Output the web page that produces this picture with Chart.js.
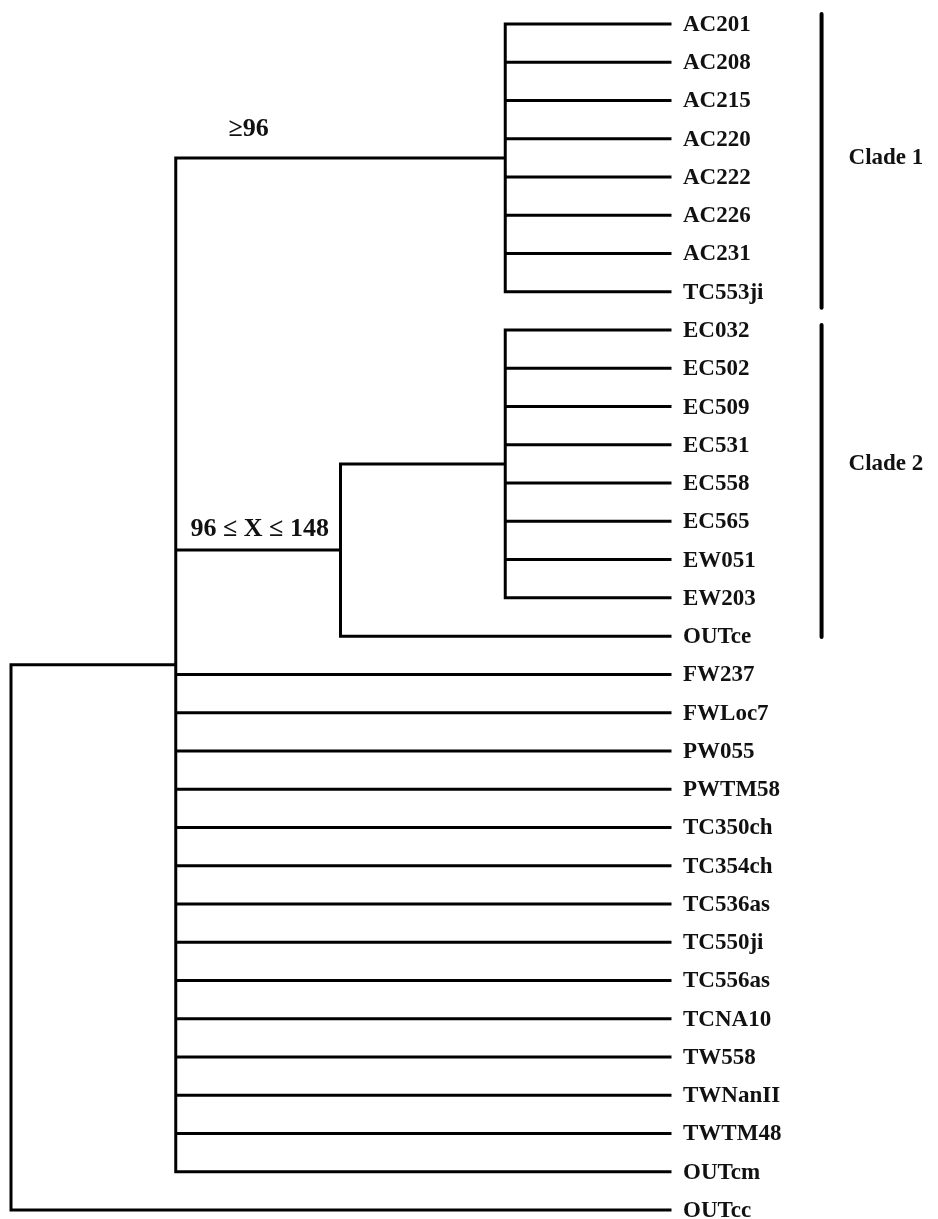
<!DOCTYPE html>
<html>
<head>
<meta charset="utf-8">
<script src="https://cdn.jsdelivr.net/npm/chart.js@4.4.1/dist/chart.umd.min.js"></script>
<style>
  html, body { margin: 0; padding: 0; background: #fff; }
  #wrap { width: 938px; height: 1219px; position: relative; }
</style>
</head>
<body>
<div id="wrap"><canvas id="tree"></canvas></div>
<script>
// Листки дерева (зверху вниз)
const leafNames = [
  "AC201", "AC208", "AC215", "AC220", "AC222", "AC226", "AC231", "TC553ji",
  "EC032", "EC502", "EC509", "EC531", "EC558", "EC565", "EW051", "EW203",
  "OUTce",
  "FW237", "FWLoc7", "PW055", "PWTM58", "TC350ch", "TC354ch", "TC536as",
  "TC550ji", "TC556as", "TCNA10", "TW558", "TWNanII", "TWTM48", "OUTcm",
  "OUTcc"
];
// Внутрішні вузли: 0 = корінь, 1 = основна група, 2 = clade 2, 3 = EC група, 4 = AC група
const nodeDepth = [0, 1, 2, 3, 3];
const nodeParent = [null, 0, 1, 2, 1];
const leafParent = [
  4, 4, 4, 4, 4, 4, 4, 4,
  3, 3, 3, 3, 3, 3, 3, 3,
  2,
  1, 1, 1, 1, 1, 1, 1, 1, 1, 1, 1, 1, 1, 1,
  0
];
const leafDepth = 4;

// Клади: [верх, низ] у позиціях листків, та підписи
const cladeNames = ["Clade 1", "Clade 2"];
const cladeSpan = [[-0.26, 7.42], [7.87, 16.02]];
const cladeMid = [3.5, 11.5];
const cladeBarX = 4.92;

// Підписи гілок
const branchLabels = ["\u226596", "96 \u2264 X \u2264 148"];
const branchLabelX = [1.32, 1.09];
const branchLabelY = [2.75, 13.2];

// 1) Обчислення положень вузлів
const nodeY = nodeDepth.map(() => null);
function childYs(n) {
  const ys = [];
  leafParent.forEach((p, i) => { if (p === n) ys.push(i); });
  nodeParent.forEach((p, j) => { if (p === n) ys.push(getNodeY(j)); });
  return ys;
}
function getNodeY(n) {
  if (nodeY[n] === null) {
    const ys = childYs(n);
    nodeY[n] = (Math.min(...ys) + Math.max(...ys)) / 2;
  }
  return nodeY[n];
}

// 2) Побудова відрізків (розриви через null)
const segs = [];
function seg(x1, y1, x2, y2) {
  segs.push({ x: x1, y: y1 }, { x: x2, y: y2 }, { x: null, y: null });
}
nodeDepth.forEach((d, n) => {
  const ys = childYs(n);
  seg(d, Math.min(...ys), d, Math.max(...ys));
});
leafParent.forEach((p, i) => seg(nodeDepth[p], i, leafDepth, i));
nodeParent.forEach((p, j) => {
  if (p !== null) seg(nodeDepth[p], getNodeY(j), nodeDepth[j], getNodeY(j));
});

const cladeSegs = [];
cladeSpan.forEach(s => {
  cladeSegs.push({ x: cladeBarX, y: s[0] }, { x: cladeBarX, y: s[1] }, { x: null, y: null });
});

// 3) Плагін для текстів
const LEAF_FONT = 'bold 23px "Liberation Serif", "Times New Roman", serif';
const NOTE_FONT = 'bold 26px "Liberation Serif", "Times New Roman", serif';
const textPlugin = {
  id: "treeText",
  afterDatasetsDraw(chart) {
    const ctx = chart.ctx;
    const xs = chart.scales.x;
    const ys = chart.scales.y;
    ctx.save();
    ctx.fillStyle = "#111";
    ctx.textAlign = "left";
    ctx.textBaseline = "middle";
    ctx.font = LEAF_FONT;
    const lx = xs.getPixelForValue(leafDepth) + 13;
    leafNames.forEach((name, i) => {
      ctx.fillText(name, lx, ys.getPixelForValue(i) + 1);
    });
    const cx = xs.getPixelForValue(cladeBarX) + 27;
    cladeNames.forEach((name, i) => {
      ctx.fillText(name, cx, ys.getPixelForValue(cladeMid[i]));
    });
    ctx.font = NOTE_FONT;
    branchLabels.forEach((t, i) => {
      ctx.fillText(t, xs.getPixelForValue(branchLabelX[i]), ys.getPixelForValue(branchLabelY[i]));
    });
    ctx.restore();
  }
};

// 4) Chart.js ініціалізація
const chart = new Chart(document.getElementById("tree"), {
  type: "scatter",
  data: {
    datasets: [
      {
        data: segs,
        showLine: true,
        spanGaps: false,
        borderColor: "#000",
        borderWidth: 3,
        borderCapStyle: "square",
        borderJoinStyle: "miter",
        pointRadius: 0,
        clip: false
      },
      {
        data: cladeSegs,
        showLine: true,
        spanGaps: false,
        borderColor: "#000",
        borderWidth: 4,
        borderCapStyle: "round",
        pointRadius: 0,
        clip: false
      }
    ]
  },
  options: {
    responsive: true,
    maintainAspectRatio: false,
    animation: false,
    layout: { padding: { left: 11, top: 24, right: 268, bottom: 9 } },
    scales: {
      x: { type: "linear", min: 0, max: leafDepth, display: false },
      y: { type: "linear", min: 0, max: leafNames.length - 1, reverse: true, display: false }
    },
    plugins: {
      legend: { display: false },
      tooltip: { enabled: false }
    }
  },
  plugins: [textPlugin]
});
</script>
</body>
</html>
